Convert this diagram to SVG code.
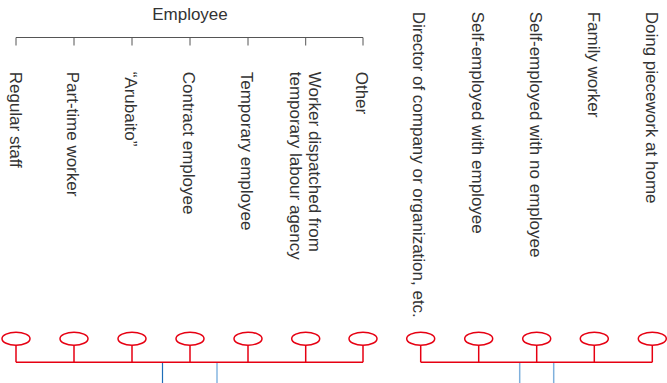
<svg xmlns="http://www.w3.org/2000/svg" width="667" height="383" viewBox="0 0 667 383">
<style>
  .lbl { font-family: "Liberation Sans", Arial, sans-serif; font-size: 17px; fill: #333; }
  .node { fill: #fff; stroke: #e60012; stroke-width: 1.5; }
  .red { stroke: #e60012; stroke-width: 1.5; fill: none; }
  .br { stroke: #555; stroke-width: 1; fill: none; }
</style>
<rect width="667" height="383" fill="#fff"/>
<g id="employee-group">
  <text class="lbl" x="190" y="20" text-anchor="middle">Employee</text>
  <path class="br" d="M16,45.5 V37.5 H363 V45.5 M74,37.5 V45.5 M132,37.5 V45.5 M190,37.5 V45.5 M248,37.5 V45.5 M305.7,37.5 V45.5"/>
</g>
<g id="connectors">
  <path class="red" d="M16,362.3 H363 M16,345 V362.3 M74,345 V362.3 M132,345 V362.3 M190,345 V362.3 M248,345 V362.3 M305.7,345 V362.3 M363,345 V362.3"/>
  <path class="red" d="M420.7,362.3 H652.3 M420.7,345 V362.3 M478.7,345 V362.3 M536.7,345 V362.3 M594.3,345 V362.3 M652.3,345 V362.3"/>
  <line x1="162.5" y1="363" x2="162.5" y2="383" stroke="#1f6db8" stroke-width="1.2"/>
  <line x1="217" y1="363" x2="217" y2="383" stroke="#86b6e0" stroke-width="1.5"/>
  <line x1="519.7" y1="363" x2="519.7" y2="383" stroke="#7fb0dc" stroke-width="1.5"/>
  <line x1="553.7" y1="363" x2="553.7" y2="383" stroke="#7fb0dc" stroke-width="1.5"/>
</g>
<g id="regular-staff">
  <ellipse class="node" cx="16" cy="338.7" rx="14" ry="6.5"/>
  <text class="lbl" transform="translate(10,71.7) rotate(90)">Regular staff</text>
</g>
<g id="part-time-worker">
  <ellipse class="node" cx="74" cy="338.7" rx="14" ry="6.5"/>
  <text class="lbl" transform="translate(67,71.7) rotate(90)">Part-time worker</text>
</g>
<g id="arubaito">
  <ellipse class="node" cx="132" cy="338.7" rx="14" ry="6.5"/>
  <text class="lbl" transform="translate(125,71.7) rotate(90)">“Arubaito”</text>
</g>
<g id="contract-employee">
  <ellipse class="node" cx="190" cy="338.7" rx="14" ry="6.5"/>
  <text class="lbl" transform="translate(183,71.7) rotate(90)">Contract employee</text>
</g>
<g id="temporary-employee">
  <ellipse class="node" cx="248" cy="338.7" rx="14" ry="6.5"/>
  <text class="lbl" transform="translate(241,71.7) rotate(90)">Temporary employee</text>
</g>
<g id="dispatched-worker">
  <ellipse class="node" cx="305.7" cy="338.7" rx="14" ry="6.5"/>
  <text class="lbl" transform="translate(309.3,71.7) rotate(90)"><tspan x="0" y="0">Worker dispatched from</tspan><tspan x="0" y="19.3">temporary labour agency</tspan></text>
</g>
<g id="other">
  <ellipse class="node" cx="363" cy="338.7" rx="14" ry="6.5"/>
  <text class="lbl" transform="translate(356,71.7) rotate(90)">Other</text>
</g>
<g id="director">
  <ellipse class="node" cx="420.7" cy="338.7" rx="14" ry="6.5"/>
  <text class="lbl" transform="translate(413,11.7) rotate(90)">Director of company or organization, etc.</text>
</g>
<g id="self-employed-with-employee">
  <ellipse class="node" cx="478.7" cy="338.7" rx="14" ry="6.5"/>
  <text class="lbl" transform="translate(471.5,11.7) rotate(90)">Self-employed with employee</text>
</g>
<g id="self-employed-no-employee">
  <ellipse class="node" cx="536.7" cy="338.7" rx="14" ry="6.5"/>
  <text class="lbl" transform="translate(529.5,11.7) rotate(90)">Self-employed with no employee</text>
</g>
<g id="family-worker">
  <ellipse class="node" cx="594.3" cy="338.7" rx="14" ry="6.5"/>
  <text class="lbl" transform="translate(588,11.7) rotate(90)">Family worker</text>
</g>
<g id="piecework-at-home">
  <ellipse class="node" cx="652.3" cy="338.7" rx="14" ry="6.5"/>
  <text class="lbl" transform="translate(645.5,11.7) rotate(90)">Doing piecework at home</text>
</g>
</svg>
